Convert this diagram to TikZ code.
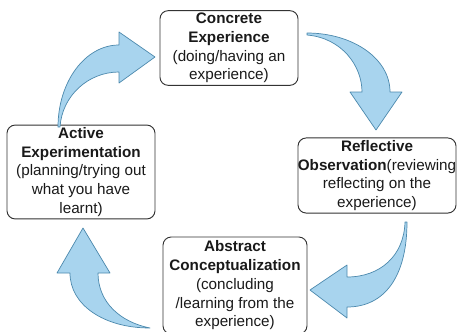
\documentclass[tikz,border=0pt]{standalone}
\usepackage{fontspec}
\setmainfont{Liberation Sans}
\usetikzlibrary{positioning}
\definecolor{arrowfill}{HTML}{A8D4EE}
\definecolor{arrowline}{HTML}{4C89AD}
\definecolor{boxline}{HTML}{333333}

\begin{document}
\begin{tikzpicture}[
    x=0.03cm, y=-0.03cm,
    stage/.style={draw=boxline, thick, rounded corners=7pt, align=center, inner xsep=0pt, inner ysep=2pt,
        font=\fontsize{13}{16}\selectfont, text=black!90},
    cyclearrow/.style={fill=arrowfill, draw=arrowline, line width=0.6pt, line join=round},
]
    \useasboundingbox (0,0) rectangle (457,331);

    \node[stage, minimum width=4.14cm, minimum height=2.1cm] (ce) at (229,48)
        {\textbf{Concrete}\\ \textbf{Experience}\\ (doing/having an\\ experience)};
    \node[stage, minimum width=4.74cm, minimum height=2.25cm] (ro) at (377,175.5)
        {\textbf{Reflective}\\ \makebox[4.5cm]{\textbf{Observation}(reviewing}\\ reflecting on the\\ experience)};
    \node[stage, minimum width=4.32cm, minimum height=2.91cm] (ac) at (235,285.5)
        {\textbf{Abstract}\\ \textbf{Conceptualization}\\ (concluding\\ /learning from the\\ experience)};
    \node[stage, minimum width=4.44cm, minimum height=2.7cm] (ae) at (81,172)
        {\textbf{Active}\\ \textbf{Experimentation}\\ (planning/trying out\\ what you have\\ learnt)};

    % curved block arrows round the cycle
    \draw[cyclearrow] (307,33) .. controls (352,33) and (390,58) .. (390,92)
        -- (402,92) -- (376,130) -- (350,92) -- (362,92)
        .. controls (362,66) and (342,38) .. (307,35) -- cycle;
    \draw[cyclearrow] (407,222) .. controls (407,276) and (385,307) .. (347,307)
        -- (347,318) -- (310,290) -- (347,265) -- (347,277)
        .. controls (380,277) and (404,256) .. (405,222) -- cycle;
    \draw[cyclearrow] (150,328) .. controls (104,328) and (70,305) .. (70,273)
        -- (57,273) -- (83,228) -- (110,273) -- (98,273)
        .. controls (98,302) and (120,322) .. (150,328) -- cycle;
    \draw[cyclearrow] (58,127) .. controls (58,82) and (85,45) .. (119,45)
        -- (119,32) -- (155,57) -- (119,83) -- (119,72)
        .. controls (88,72) and (62,96) .. (60,127) -- cycle;
\end{tikzpicture}
\end{document}
